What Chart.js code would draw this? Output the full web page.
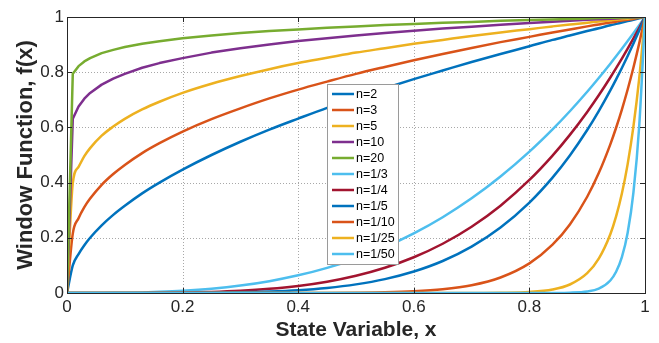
<!DOCTYPE html>
<html lang="en">
<head>
  <meta charset="UTF-8">
  <title>Window Function</title>
  <script src="https://cdn.jsdelivr.net/npm/chart.js"></script>
  <style>
    body { margin: 0; background: #fff; }
    canvas { display: block; }
  </style>
</head>
<body>
  <canvas id="myChart" width="659" height="343"></canvas>
  <script>
    // x positions (denser near both ends)
    const xs = [0, 0.01, 0.02, 0.03, 0.04, 0.06, 0.08, 0.1, 0.13, 0.16, 0.2, 0.25, 0.3, 0.35, 0.4, 0.45, 0.5,
      0.55, 0.6, 0.65, 0.7, 0.75, 0.8, 0.84, 0.87, 0.9, 0.92, 0.94, 0.95, 0.96, 0.97, 0.98, 0.99, 1]

    const n2 = [0, 0.1, 0.141, 0.173, 0.2, 0.245, 0.283, 0.316, 0.361, 0.4, 0.447, 0.5, 0.548, 0.592, 0.632, 0.671, 0.707,
      0.742, 0.775, 0.806, 0.837, 0.866, 0.894, 0.917, 0.933, 0.949, 0.959, 0.97, 0.975, 0.98, 0.985, 0.99, 0.995, 1]
    const n3 = [0, 0.215, 0.271, 0.311, 0.342, 0.392, 0.431, 0.464, 0.507, 0.543, 0.585, 0.63, 0.669, 0.705, 0.737, 0.766, 0.794,
      0.819, 0.843, 0.866, 0.888, 0.909, 0.928, 0.944, 0.955, 0.966, 0.973, 0.98, 0.983, 0.987, 0.99, 0.993, 0.997, 1]
    const n5 = [0, 0.398, 0.457, 0.496, 0.525, 0.57, 0.603, 0.631, 0.665, 0.693, 0.725, 0.758, 0.786, 0.811, 0.833, 0.852, 0.871,
      0.887, 0.903, 0.917, 0.931, 0.944, 0.956, 0.966, 0.973, 0.979, 0.984, 0.988, 0.99, 0.992, 0.994, 0.996, 0.998, 1]
    const n10 = [0, 0.631, 0.676, 0.704, 0.725, 0.755, 0.777, 0.794, 0.816, 0.833, 0.851, 0.871, 0.887, 0.9, 0.913, 0.923, 0.933,
      0.942, 0.95, 0.958, 0.965, 0.972, 0.978, 0.983, 0.986, 0.99, 0.992, 0.994, 0.995, 0.996, 0.997, 0.998, 0.999, 1]
    const n20 = [0, 0.794, 0.822, 0.839, 0.851, 0.869, 0.881, 0.891, 0.903, 0.912, 0.923, 0.933, 0.942, 0.949, 0.955, 0.961, 0.966,
      0.971, 0.975, 0.979, 0.982, 0.986, 0.989, 0.991, 0.993, 0.995, 0.996, 0.997, 0.997, 0.998, 0.998, 0.999, 0.9995, 1]
    const n1_3 = [0, 0, 0, 0, 0.0001, 0.0002, 0.0005, 0.001, 0.0022, 0.0041, 0.008, 0.0156, 0.027, 0.0429, 0.064, 0.0911, 0.125,
      0.1664, 0.216, 0.2746, 0.343, 0.4219, 0.512, 0.5927, 0.6585, 0.729, 0.7787, 0.8306, 0.8574, 0.8847, 0.9127, 0.9412, 0.9703, 1]
    const n1_4 = [0, 0, 0, 0, 0, 0, 0, 0.0001, 0.0003, 0.0007, 0.0016, 0.0039, 0.0081, 0.015, 0.0256, 0.041, 0.0625,
      0.0915, 0.1296, 0.1785, 0.2401, 0.3164, 0.4096, 0.4979, 0.5729, 0.6561, 0.7164, 0.7807, 0.8145, 0.8493, 0.8853, 0.9224, 0.9606, 1]
    const n1_5 = [0, 0, 0, 0, 0, 0, 0, 0, 0, 0.0001, 0.0003, 0.001, 0.0024, 0.0053, 0.0102, 0.0185, 0.0313,
      0.0503, 0.0778, 0.116, 0.1681, 0.2373, 0.3277, 0.4182, 0.4984, 0.5905, 0.6591, 0.7339, 0.7738, 0.8154, 0.8587, 0.9039, 0.951, 1]
    const n1_10 = [0, 0, 0, 0, 0, 0, 0, 0, 0, 0, 0, 0, 0, 0, 0.0001, 0.0003, 0.001,
      0.0025, 0.006, 0.0135, 0.0282, 0.0563, 0.1074, 0.1749, 0.2484, 0.3487, 0.4344, 0.5386, 0.5987, 0.6648, 0.7374, 0.8171, 0.9044, 1]
    const n1_25 = [0, 0, 0, 0, 0, 0, 0, 0, 0, 0, 0, 0, 0, 0, 0, 0, 0,
      0, 0, 0, 0.0001, 0.0008, 0.0038, 0.0128, 0.0308, 0.0718, 0.1244, 0.2129, 0.2774, 0.3604, 0.467, 0.6035, 0.7778, 1]
    const n1_50 = [0, 0, 0, 0, 0, 0, 0, 0, 0, 0, 0, 0, 0, 0, 0, 0, 0,
      0, 0, 0, 0, 0, 0, 0.0002, 0.001, 0.0052, 0.0155, 0.0453, 0.0769, 0.1299, 0.2181, 0.3642, 0.605, 1]

    const labels = ['n=2', 'n=3', 'n=5', 'n=10', 'n=20', 'n=1/3', 'n=1/4', 'n=1/5', 'n=1/10', 'n=1/25', 'n=1/50']
    const series = [n2, n3, n5, n10, n20, n1_3, n1_4, n1_5, n1_10, n1_25, n1_50]
    const colors = ['#0072BD', '#D95319', '#EDB120', '#7E2F8E', '#77AC30', '#4DBEEE',
      '#A2142F', '#0072BD', '#D95319', '#EDB120', '#4DBEEE']
    // the two steepest root curves keep straight segments (sharp knee at x=0.01)
    const straight = ['n=10', 'n=20']

    const FONT = "'Liberation Sans', Arial, Helvetica, sans-serif"
    const INK = '#262626'

    // dotted grid under the lines
    const dottedGrid = {
      id: 'dottedGrid',
      beforeDatasetsDraw(chart) {
        const ctx = chart.ctx
        const a = chart.chartArea
        const sx = chart.scales.x
        const sy = chart.scales.y
        ctx.save()
        ctx.strokeStyle = '#a8a8a8'
        ctx.lineWidth = 1
        ctx.setLineDash([1, 2])
        ctx.beginPath()
        sx.ticks.forEach(t => {
          const px = Math.round(sx.getPixelForValue(t.value)) + 0.5
          ctx.moveTo(px, a.top); ctx.lineTo(px, a.bottom)
        })
        sy.ticks.forEach(t => {
          const py = Math.round(sy.getPixelForValue(t.value)) + 0.5
          ctx.moveTo(a.left, py); ctx.lineTo(a.right, py)
        })
        ctx.stroke()
        ctx.restore()
      }
    }

    // box, inward ticks and legend drawn like matlab does
    const matlabFrame = {
      id: 'matlabFrame',
      afterDraw(chart) {
        const ctx = chart.ctx
        const a = chart.chartArea
        const sx = chart.scales.x
        const sy = chart.scales.y
        ctx.save()
        ctx.strokeStyle = INK
        ctx.lineWidth = 1
        ctx.strokeRect(Math.round(a.left) + 0.5, Math.round(a.top) + 0.5,
          Math.round(a.right - a.left), Math.round(a.bottom - a.top))
        ctx.beginPath()
        sx.ticks.forEach(t => {
          const px = Math.round(sx.getPixelForValue(t.value)) + 0.5
          ctx.moveTo(px, a.bottom); ctx.lineTo(px, a.bottom - 5)
          ctx.moveTo(px, a.top); ctx.lineTo(px, a.top + 5)
        })
        sy.ticks.forEach(t => {
          const py = Math.round(sy.getPixelForValue(t.value)) + 0.5
          ctx.moveTo(a.left, py); ctx.lineTo(a.left + 5, py)
          ctx.moveTo(a.right, py); ctx.lineTo(a.right - 5, py)
        })
        ctx.stroke()

        // legend
        const lx = 327.5, ly = 84.5, lw = 71, lh = 180
        ctx.fillStyle = '#fff'
        ctx.fillRect(lx, ly, lw, lh)
        ctx.strokeStyle = '#9a9a9a'
        ctx.strokeRect(lx, ly, lw, lh)
        ctx.font = '12.5px ' + FONT
        ctx.textBaseline = 'middle'
        ctx.textAlign = 'left'
        chart.data.datasets.forEach((ds, i) => {
          const y = 94 + i * 16
          ctx.strokeStyle = ds.borderColor
          ctx.lineWidth = 2.5
          ctx.beginPath()
          ctx.moveTo(332, y); ctx.lineTo(354, y)
          ctx.stroke()
          ctx.fillStyle = '#000'
          ctx.fillText(ds.label, 356, y + 0.5)
        })
        ctx.restore()
      }
    }

    const tickText = v => String(Math.round(v * 10) / 10)

    const ctx = document.getElementById('myChart')
    new Chart(ctx, {
      type: 'line',
      data: {
        datasets: series.map((s, i) => ({
          label: labels[i],
          data: xs.map((x, j) => ({ x: x, y: s[j] })),
          borderColor: colors[i],
          backgroundColor: colors[i],
          borderWidth: 2.5,
          borderJoinStyle: 'round',
          pointRadius: 0,
          tension: 0,
          cubicInterpolationMode: straight.includes(labels[i]) ? 'default' : 'monotone',
          fill: false,
          order: series.length - i
        }))
      },
      options: {
        responsive: false,
        animation: false,
        layout: { padding: { top: 17, right: 14, left: 0, bottom: 0 } },
        plugins: { legend: { display: false }, tooltip: { enabled: false } },
        scales: {
          x: {
            type: 'linear', min: 0, max: 1,
            afterFit: s => { s.height = 50 },
            ticks: { stepSize: 0.2, padding: 4, color: INK, font: { family: FONT, size: 17 }, callback: tickText },
            grid: { display: false, drawTicks: false },
            border: { display: false },
            title: {
              display: true, text: 'State Variable, x', color: INK,
              font: { family: FONT, size: 21, weight: 'bold' }, padding: { top: 0, bottom: 0 }
            }
          },
          y: {
            type: 'linear', min: 0, max: 1,
            afterFit: s => { s.width = 67 },
            ticks: { stepSize: 0.2, padding: 3, color: INK, font: { family: FONT, size: 17 }, callback: tickText },
            grid: { display: false, drawTicks: false },
            border: { display: false },
            title: {
              display: true, text: 'Window Function, f(x)', color: INK,
              font: { family: FONT, size: 22, weight: 'bold' }, padding: { top: 13, bottom: 0 }
            }
          }
        }
      },
      plugins: [dottedGrid, matlabFrame]
    })
  </script>
</body>
</html>
